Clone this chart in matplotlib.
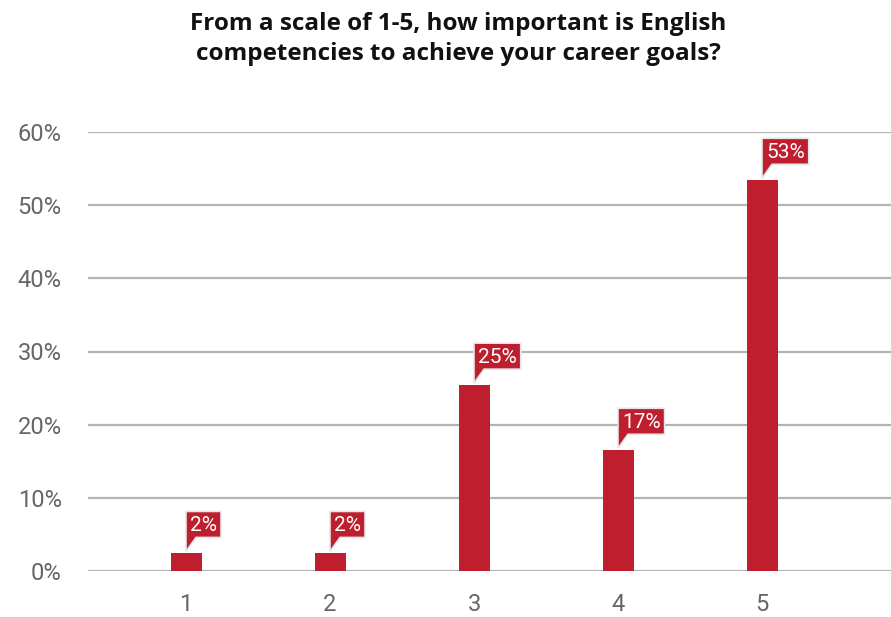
import matplotlib
matplotlib.use("Agg")
import matplotlib.pyplot as plt
from matplotlib.patches import Polygon

categories = ["1", "2", "3", "4", "5"]
values = [2.4, 2.4, 25.4, 16.5, 53.4]
labels = ["2%", "2%", "25%", "17%", "53%"]
yticks = [0, 10, 20, 30, 40, 50, 60]
ytick_labels = ["0%", "10%", "20%", "30%", "40%", "50%", "60%"]
title = "From a scale of 1-5, how important is English\ncompetencies to achieve your career goals?"

RED = "#BE1E2D"
plt.rcParams["font.family"] = ["Roboto", "DejaVu Sans"]

fig = plt.figure(figsize=(8.91, 6.17), dpi=100)
ax = fig.add_axes([88 / 891, (617 - 571) / 617, 1 - 88 / 891, (571 - 132) / 617])

x = list(range(1, len(categories) + 1))
ax.bar(x, values, width=31 / 144, color=RED, zorder=3)
ax.set_xlim(1 - 98 / 144, 1 + 705 / 144)
ax.set_ylim(0, 60)
ax.set_yticks(yticks)
ax.set_yticklabels(ytick_labels)
ax.set_xticks(x)
ax.set_xticklabels(categories)
ax.tick_params(axis="both", length=0, labelsize=17, colors="#666666")
ax.tick_params(axis="y", pad=19)
ax.tick_params(axis="x", pad=16)
ax.yaxis.grid(True, color="#b3b3b3", linewidth=1.6, zorder=0)
ax.set_axisbelow(True)
for s in ax.spines.values():
    s.set_visible(False)

fig.text(458 / 891, 1 - 39 / 617, title, ha="center", va="center", fontsize=17.5,
         fontweight="bold", color="#111111", linespacing=1.35,
         family=["Open Sans", "DejaVu Sans"])

fig.canvas.draw()
renderer = fig.canvas.get_renderer()
for xi, v, lab in zip(x, values, labels):
    ax0, ay0 = ax.transData.transform((xi, v))
    t = ax.text(0, 0, lab, color="white", fontsize=15, ha="left", va="baseline",
                transform=None, zorder=6)
    bb = t.get_window_extent(renderer)
    w = bb.width + 8
    h = 26
    base = ay0 + 16
    pts = [(ax0, ay0 + 2), (ax0 + 10, base), (ax0 + w, base), (ax0 + w, base + h),
           (ax0, base + h), (ax0, base)]
    poly = Polygon(pts, closed=True, facecolor=RED, edgecolor="#e6e6e6", linewidth=1.2,
                   transform=None, zorder=5)
    ax.add_artist(poly)
    t.set_position((ax0 + 4, base + 6))

fig.savefig("out.png", dpi=100)
